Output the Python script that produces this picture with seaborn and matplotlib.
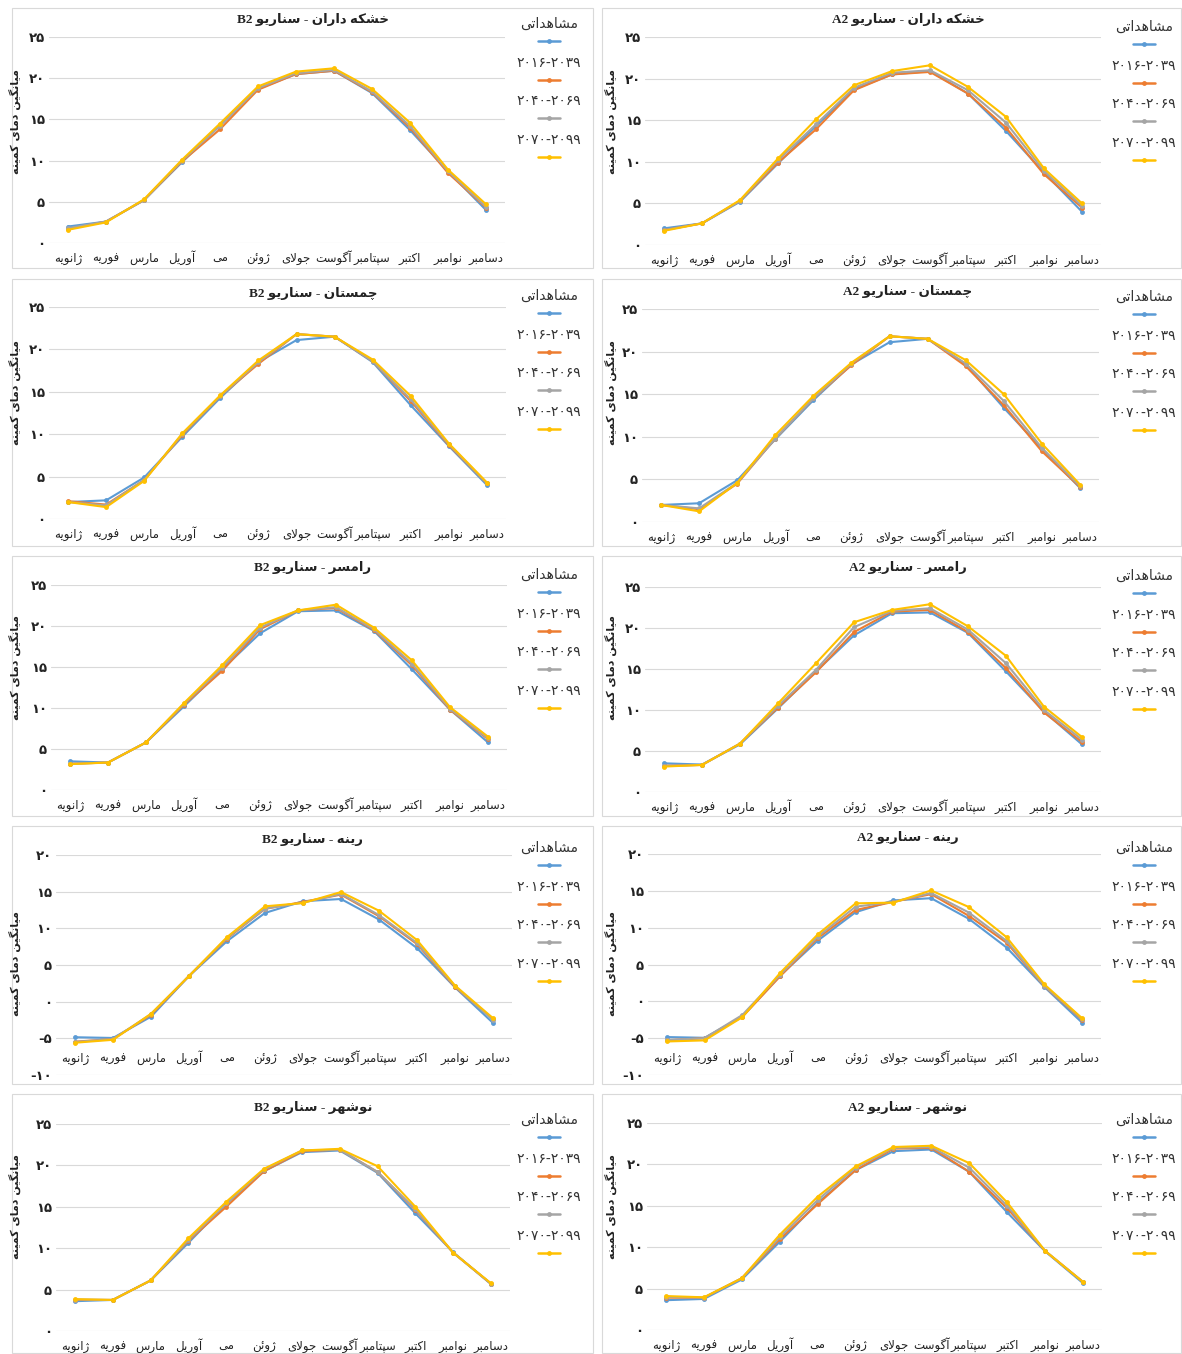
import re
import numpy as np
import pandas as pd
import matplotlib
matplotlib.use('Agg')
import matplotlib.pyplot as plt
from matplotlib.lines import Line2D
from matplotlib.patches import Rectangle
import seaborn as sns

# ---------------- data ----------------
months = ['ژانویه', 'فوریه', 'مارس', 'آوریل', 'می', 'ژوئن', 'جولای', 'آگوست',
          'سپتامبر', 'اکتبر', 'نوامبر', 'دسامبر']
stations = ['خشکه داران', 'چمستان', 'رامسر', 'رینه', 'نوشهر']
scenarios = ['B2', 'A2']
series_labels = ['مشاهداتی', '۲۰۱۶-۲۰۳۹', '۲۰۴۰-۲۰۶۹', '۲۰۷۰-۲۰۹۹']
ylabel = 'میانگین دمای کمینه'

obs_khoshkeh = [2.0, 2.6, 5.2, 9.8, 14.3, 18.7, 20.5, 20.9, 18.2, 13.7, 8.7, 4.0]
b2_khoshkeh_2039 = [1.7, 2.6, 5.2, 9.9, 13.8, 18.6, 20.5, 20.9, 18.3, 14.0, 8.5, 4.3]
b2_khoshkeh_2069 = [1.8, 2.6, 5.2, 10.0, 14.2, 18.8, 20.6, 21.0, 18.4, 14.2, 8.7, 4.4]
b2_khoshkeh_2099 = [1.6, 2.5, 5.3, 10.1, 14.5, 19.0, 20.8, 21.2, 18.7, 14.6, 8.9, 4.7]
a2_khoshkeh_2039 = [1.8, 2.6, 5.3, 9.9, 13.9, 18.6, 20.5, 20.8, 18.2, 14.1, 8.5, 4.5]
a2_khoshkeh_2069 = [1.8, 2.6, 5.3, 10.2, 14.5, 18.9, 20.7, 21.0, 18.6, 14.7, 8.9, 4.7]
a2_khoshkeh_2099 = [1.7, 2.6, 5.4, 10.4, 15.1, 19.2, 20.9, 21.6, 19.0, 15.4, 9.2, 5.0]

obs_chamestan = [2.0, 2.2, 4.9, 9.7, 14.3, 18.5, 21.1, 21.5, 18.5, 13.4, 8.6, 4.0]
b2_chamestan_2039 = [2.1, 1.7, 4.6, 9.9, 14.5, 18.3, 21.8, 21.5, 18.6, 13.9, 8.7, 4.2]
b2_chamestan_2069 = [2.0, 1.6, 4.6, 10.0, 14.5, 18.5, 21.8, 21.5, 18.6, 14.1, 8.8, 4.2]
b2_chamestan_2099 = [2.0, 1.4, 4.5, 10.1, 14.6, 18.7, 21.8, 21.5, 18.8, 14.5, 8.9, 4.3]
a2_chamestan_2039 = [2.0, 1.5, 4.5, 9.8, 14.5, 18.4, 21.8, 21.5, 18.3, 13.7, 8.3, 4.1]
a2_chamestan_2069 = [2.0, 1.6, 4.6, 9.8, 14.5, 18.6, 21.8, 21.5, 18.6, 14.2, 8.7, 4.2]
a2_chamestan_2099 = [2.0, 1.25, 4.6, 10.2, 14.8, 18.7, 21.8, 21.5, 19.0, 15.0, 9.2, 4.4]

obs_ramsar = [3.5, 3.35, 5.8, 10.2, 14.7, 19.1, 21.8, 21.9, 19.4, 14.7, 9.8, 5.8]
b2_ramsar_2039 = [3.2, 3.35, 5.8, 10.4, 14.5, 19.6, 21.9, 22.2, 19.5, 15.2, 9.8, 6.2]
b2_ramsar_2069 = [3.2, 3.35, 5.8, 10.5, 14.9, 19.8, 21.9, 22.3, 19.6, 15.4, 9.9, 6.3]
b2_ramsar_2099 = [3.15, 3.35, 5.8, 10.6, 15.2, 20.1, 21.9, 22.6, 19.8, 15.8, 10.1, 6.5]
a2_ramsar_2039 = [3.2, 3.3, 5.9, 10.3, 14.6, 19.5, 22.0, 22.2, 19.5, 15.1, 9.7, 6.1]
a2_ramsar_2069 = [3.2, 3.3, 5.9, 10.5, 14.9, 20.1, 22.1, 22.4, 19.8, 15.7, 10.0, 6.4]
a2_ramsar_2099 = [3.1, 3.3, 5.9, 10.8, 15.7, 20.7, 22.2, 22.9, 20.2, 16.6, 10.4, 6.7]

obs_rineh = [-4.85, -4.95, -2.05, 3.5, 8.25, 12.1, 13.7, 14.0, 11.2, 7.3, 1.95, -2.9]
b2_rineh_2039 = [-5.45, -5.1, -1.8, 3.5, 8.6, 12.65, 13.6, 14.6, 11.65, 7.85, 2.0, -2.4]
b2_rineh_2069 = [-5.5, -5.1, -1.7, 3.5, 8.7, 12.7, 13.5, 14.7, 11.8, 8.0, 2.1, -2.5]
b2_rineh_2099 = [-5.6, -5.2, -1.65, 3.5, 8.8, 13.0, 13.45, 14.95, 12.4, 8.4, 2.2, -2.25]
a2_rineh_2039 = [-5.3, -5.0, -2.1, 3.4, 8.6, 12.4, 13.5, 14.55, 11.6, 7.95, 2.05, -2.5]
a2_rineh_2069 = [-5.25, -5.0, -1.85, 3.6, 8.8, 12.85, 13.5, 14.7, 12.05, 8.2, 2.1, -2.4]
a2_rineh_2099 = [-5.45, -5.3, -2.15, 3.85, 9.1, 13.3, 13.4, 15.05, 12.8, 8.7, 2.3, -2.3]

obs_nowshahr = [3.6, 3.75, 6.1, 10.65, 15.35, 19.3, 21.6, 21.8, 19.1, 14.2, 9.5, 5.65]
b2_nowshahr_2039 = [3.75, 3.75, 6.1, 10.9, 15.0, 19.3, 21.7, 21.9, 19.2, 14.6, 9.45, 5.7]
b2_nowshahr_2069 = [3.8, 3.75, 6.1, 11.0, 15.4, 19.5, 21.8, 21.9, 19.2, 14.7, 9.45, 5.7]
b2_nowshahr_2099 = [3.85, 3.75, 6.1, 11.2, 15.6, 19.6, 21.8, 22.0, 19.9, 15.0, 9.45, 5.75]
a2_nowshahr_2039 = [3.9, 3.9, 6.25, 10.95, 15.2, 19.3, 21.9, 22.0, 19.1, 14.7, 9.55, 5.8]
a2_nowshahr_2069 = [4.0, 3.9, 6.25, 11.2, 15.7, 19.6, 22.0, 22.1, 19.6, 15.0, 9.55, 5.8]
a2_nowshahr_2099 = [4.1, 3.95, 6.25, 11.5, 16.1, 19.75, 22.1, 22.25, 20.15, 15.4, 9.55, 5.8]

panels = [
    [(obs_khoshkeh, b2_khoshkeh_2039, b2_khoshkeh_2069, b2_khoshkeh_2099),
     (obs_khoshkeh, a2_khoshkeh_2039, a2_khoshkeh_2069, a2_khoshkeh_2099)],
    [(obs_chamestan, b2_chamestan_2039, b2_chamestan_2069, b2_chamestan_2099),
     (obs_chamestan, a2_chamestan_2039, a2_chamestan_2069, a2_chamestan_2099)],
    [(obs_ramsar, b2_ramsar_2039, b2_ramsar_2069, b2_ramsar_2099),
     (obs_ramsar, a2_ramsar_2039, a2_ramsar_2069, a2_ramsar_2099)],
    [(obs_rineh, b2_rineh_2039, b2_rineh_2069, b2_rineh_2099),
     (obs_rineh, a2_rineh_2039, a2_rineh_2069, a2_rineh_2099)],
    [(obs_nowshahr, b2_nowshahr_2039, b2_nowshahr_2069, b2_nowshahr_2099),
     (obs_nowshahr, a2_nowshahr_2039, a2_nowshahr_2069, a2_nowshahr_2099)],
]
yticks_normal = [0, 5, 10, 15, 20, 25]
yticks_rineh = [-10, -5, 0, 5, 10, 15, 20]

colors = ['#5B9BD5', '#ED7D31', '#A5A5A5', '#FFC000']

# ---------------- persian text helpers ----------------
AR_FORMS = {
    '\u0622': ('\uFE81', '\uFE82', None, None),
    '\u0626': ('\uFE89', '\uFE8A', '\uFE8B', '\uFE8C'),
    '\u0627': ('\uFE8D', '\uFE8E', None, None),
    '\u0628': ('\uFE8F', '\uFE90', '\uFE91', '\uFE92'),
    '\u067E': ('\uFB56', '\uFB57', '\uFB58', '\uFB59'),
    '\u062A': ('\uFE95', '\uFE96', '\uFE97', '\uFE98'),
    '\u062C': ('\uFE9D', '\uFE9E', '\uFE9F', '\uFEA0'),
    '\u0686': ('\uFB7A', '\uFB7B', '\uFB7C', '\uFB7D'),
    '\u062E': ('\uFEA5', '\uFEA6', '\uFEA7', '\uFEA8'),
    '\u062F': ('\uFEA9', '\uFEAA', None, None),
    '\u0631': ('\uFEAD', '\uFEAE', None, None),
    '\u0698': ('\uFB8A', '\uFB8B', None, None),
    '\u0633': ('\uFEB1', '\uFEB2', '\uFEB3', '\uFEB4'),
    '\u0634': ('\uFEB5', '\uFEB6', '\uFEB7', '\uFEB8'),
    '\u0641': ('\uFED1', '\uFED2', '\uFED3', '\uFED4'),
    '\u06A9': ('\uFB8E', '\uFB8F', '\uFB90', '\uFB91'),
    '\u06AF': ('\uFB92', '\uFB93', '\uFB94', '\uFB95'),
    '\u0644': ('\uFEDD', '\uFEDE', '\uFEDF', '\uFEE0'),
    '\u0645': ('\uFEE1', '\uFEE2', '\uFEE3', '\uFEE4'),
    '\u0646': ('\uFEE5', '\uFEE6', '\uFEE7', '\uFEE8'),
    '\u0647': ('\uFEE9', '\uFEEA', '\uFEEB', '\uFEEC'),
    '\u0648': ('\uFEED', '\uFEEE', None, None),
    '\u06CC': ('\uFBFC', '\uFBFD', '\uFBFE', '\uFBFF'),
}
LAM_ALEF = {'\u0627': ('\uFEFB', '\uFEFC'), '\u0622': ('\uFEF5', '\uFEF6')}
LTR = r'[A-Za-z0-9\u06F0-\u06F9]+(?:[-.][A-Za-z0-9\u06F0-\u06F9]+)*'


def fa(text):
    text = text.replace('\u064A', '\u06CC').replace('\u0643', '\u06A9')

    def joins_next(c):
        f = AR_FORMS.get(c)
        return f is not None and f[2] is not None

    out, i, n = [], 0, len(text)
    while i < n:
        c = text[i]
        f = AR_FORMS.get(c)
        if f is None:
            out.append(c)
            i += 1
            continue
        prev = i > 0 and joins_next(text[i - 1])
        if c == '\u0644' and i + 1 < n and text[i + 1] in LAM_ALEF:
            lig = LAM_ALEF[text[i + 1]]
            out.append(lig[1] if prev else lig[0])
            i += 2
            continue
        nxt = f[2] is not None and i + 1 < n and text[i + 1] in AR_FORMS
        if prev and nxt:
            g = f[3]
        elif prev:
            g = f[1]
        elif nxt:
            g = f[2]
        else:
            g = f[0]
        out.append(g)
        i += 1
    shaped = ''.join(out)
    runs = re.findall(LTR + '|(?:(?!' + LTR + ').)+', shaped)
    return ''.join(r if re.fullmatch(LTR, r) else r[::-1] for r in reversed(runs))


def fa_num(v):
    s = str(abs(v)).translate(str.maketrans('0123456789', '۰۱۲۳۴۵۶۷۸۹'))
    return '-' + s if v < 0 else s


# ---------------- figure ----------------
sns.set_theme(style='white')
plt.rcParams['font.family'] = ['DejaVu Sans']
TITLE_FONT = ['Liberation Serif', 'DejaVu Sans']

W, H = 1182, 1354
fig = plt.figure(figsize=(W / 100, H / 100), dpi=100)
fig.patch.set_facecolor('white')

# layout (pixels)
box_x = [(12, 593), (602, 1181)]
box_y = [(8, 268), (279, 546), (556, 816), (826, 1084), (1094, 1353)]
ax_x = [[(49, 505), (49, 506), (51, 507), (56, 512), (56, 510)],
        [(645, 1101), (642, 1099), (645, 1101), (648, 1101), (647, 1102)]]
ax_y = [[(37, 243), (307, 519), (585, 790), (855, 1075), (1124, 1331)],
        [(37, 245), (309, 522), (587, 792), (854, 1075), (1123, 1330)]]
title_x = [313, 908]
title_y = [[20, 293, 568, 840, 1108], [20, 292, 568, 838, 1108]]
ylab_x = [15, 611]
ylab_y = [122, 393, 668, 964, 1207]
leg_x = [549, 1144]
leg_y = [[24, 296, 575, 848, 1120], [27, 297, 576, 848, 1120]]
leg_step = 38.7

month_idx = np.arange(len(months))

for r in range(5):
    for c in range(2):
        x0, x1 = box_x[c]
        y0, y1 = box_y[r]
        fig.add_artist(Rectangle((x0 / W, 1 - y1 / H), (x1 - x0) / W, (y1 - y0) / H,
                                 transform=fig.transFigure, fill=False,
                                 edgecolor='#D9D9D9', linewidth=0.8))

        ax0, ax1 = ax_x[c][r]
        ay0, ay1 = ax_y[c][r]
        ax = fig.add_axes([ax0 / W, 1 - ay1 / H, (ax1 - ax0) / W, (ay1 - ay0) / H])

        rows = []
        for label, vals in zip(series_labels, panels[r][c]):
            for m, v in zip(month_idx, vals):
                rows.append({'month': m, 'value': v, 'series': label})
        df = pd.DataFrame(rows)
        sns.lineplot(data=df, x='month', y='value', hue='series',
                     hue_order=series_labels, palette=colors, marker='o',
                     markersize=3.5, markeredgewidth=0, linewidth=1.5,
                     legend=False, ax=ax)

        ticks = yticks_rineh if r == 3 else yticks_normal
        ax.set_ylim(ticks[0], ticks[-1])
        ax.set_yticks(ticks)
        ax.set_yticklabels([fa_num(t) for t in ticks], fontsize=9.5,
                           fontweight='bold', color='#222222')
        ax.set_xlim(-0.5, len(months) - 0.5)
        ax.set_xticks(month_idx)
        ax.set_xticklabels([fa(m) for m in months], fontsize=8.5, color='#222222')
        plt.setp(ax.get_xticklabels(), va='baseline')
        ax.set_xlabel('')
        ax.set_ylabel('')
        ax.grid(axis='y', color='#D9D9D9', linewidth=0.8)
        ax.grid(axis='x', visible=False)
        ax.set_axisbelow(True)
        sns.despine(ax=ax, left=True, bottom=True)
        ax.set_facecolor('none')
        ax.tick_params(axis='both', length=0)
        ax.tick_params(axis='y', pad=3)
        # rineh: month labels sit between the -5 and -10 gridlines
        ax.tick_params(axis='x', pad=-9.5 if r == 3 else 13.5)

        fig.text(title_x[c] / W, 1 - title_y[c][r] / H,
                 fa(f'{stations[r]} - سناریو {scenarios[c]}'),
                 ha='center', va='center', fontsize=9.5, fontweight='bold',
                 family=TITLE_FONT, color='#222222')
        fig.text(ylab_x[c] / W, 1 - ylab_y[r] / H, fa(ylabel), rotation=90,
                 ha='center', va='center', fontsize=8, fontweight='bold',
                 color='#222222')

        # legend: label above line sample, like the Excel layout
        lx = leg_x[c]
        for k, (label, col) in enumerate(zip(series_labels, colors)):
            ty = leg_y[c][r] + k * leg_step
            fig.text(lx / W, 1 - ty / H, fa(label), ha='center', va='center',
                     fontsize=10, color='#333333')
            sy = 1 - (ty + 17) / H
            fig.add_artist(Line2D([(lx - 11) / W, lx / W, (lx + 11) / W], [sy, sy, sy],
                                  transform=fig.transFigure, color=col,
                                  linewidth=1.8, marker='o', markersize=3.5,
                                  markeredgewidth=0, markevery=[1]))

fig.savefig('out.png', dpi=100, facecolor='white')
